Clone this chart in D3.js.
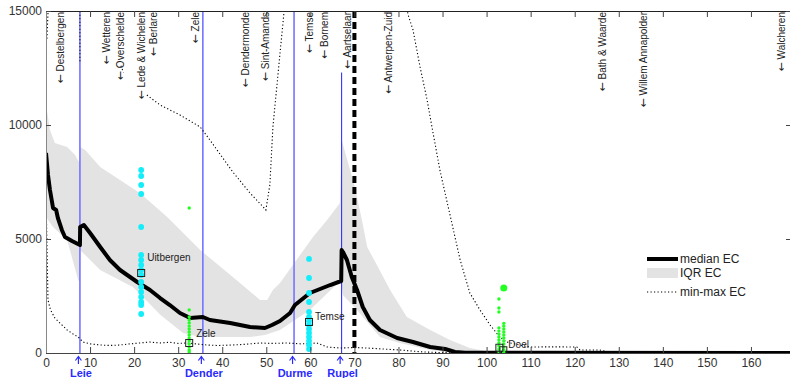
<!DOCTYPE html>
<html>
<head>
<meta charset="utf-8">
<script src="https://cdn.jsdelivr.net/npm/d3@7"></script>
<style>
  body { margin: 0; background: #fff; }
  svg { display: block; font-family: "Liberation Sans", Arial, sans-serif; }
</style>
</head>
<body>
<svg id="chart" width="790" height="378"></svg>
<script>
// ---- axis ticks ----
const xTicks = [0, 10, 20, 30, 40, 50, 60, 70, 80, 90, 100, 110, 120, 130, 140, 150, 160];
const yTicks = [0, 5000, 10000, 15000];

// ---- stations along the estuary (km from Gent) ----
const stationNames = ["Destelbergen", "Wetteren", "Overschelde", "Lede & Wichelen", "Berlare", "Zele",
  "Dendermonde", "Sint-Amands", "Temse", "Bornem", "Aartselaar", "Antwerpen-Zuid",
  "Bath & Waarde", "Willem Annapolder", "Walcheren"];
const stationKm = [3.4, 13.8, 17.0, 21.6, 24.3, 33.9, 45.2, 49.9, 59.9, 63.1, 68.5, 77.8, 126.4, 135.5, 167.0];

// ---- tributaries ----
const tributaryNames = ["Leie", "Dender", "Durme", "Rupel"];
const tributaryKm = [7.7, 35.6, 56.3, 67.1];
const tributaryTopEC = [15000, 15000, 15000, 12300];
const borderKm = 70;

// ---- median EC ----
const medianKm = [0, 0.45, 0.9, 1.6, 2.3, 2.7, 3.6, 4.3, 5.9, 7.7, 7.75, 8.6, 10.0, 12.3, 14.5, 16.8, 20.7, 23.6,
  25.9, 28.1, 30.4, 32.7, 35.6, 37.2, 41.8, 46.3, 49.7, 51.3, 53.1, 55.4, 56.5, 59.9, 64.5, 67.0, 67.1, 67.4,
  68.3, 69.4, 70.6, 71.9, 73.5, 75.8, 79.7, 83.3, 87.2, 90.6, 92.8, 95.1, 169];
const medianEC = [8772, 7807, 7149, 6360, 6272, 5921, 5395, 5088, 4912, 4737, 5526, 5614, 5263, 4649, 4079, 3640,
  3114, 2763, 2412, 2105, 1754, 1535, 1579, 1447, 1316, 1140, 1096, 1228, 1404, 1754, 2105, 2632, 2982, 3158,
  4518, 4430, 4079, 3333, 2763, 2018, 1447, 1009, 658, 482, 263, 175, 44, 10, 0];

// ---- interquartile range EC ----
const iqrUpperKm = [0, 0.9, 2.0, 4.8, 6.6, 7.6, 7.75, 8.9, 12.3, 16.8, 21.3, 27.5, 35.0, 42.4, 48.6, 50.2, 51.5,
  53.1, 60.6, 63.8, 66.7, 67.1, 68.2, 70.1, 71.7, 72.9, 75.1, 78.1, 81.9, 87.2, 91.7, 96.2, 100.8, 105, 169];
const iqrUpperEC = [10900, 9780, 9211, 9035, 8684, 8333, 9035, 8904, 8158, 7588, 7018, 5965, 4518, 3333, 2325,
  2325, 2763, 3070, 5088, 5833, 6579, 9342, 8596, 7281, 5833, 4649, 3860, 2763, 1579, 1009, 570, 219, 44, 0, 0];
const iqrLowerKm = [0, 1.6, 4.8, 7.3, 7.6, 7.75, 12.3, 19.7, 21.3, 26.0, 31.1, 35.0, 46.3, 49.7, 53.1, 59.9,
  67.0, 67.4, 70.6, 75.8, 80.3, 87.2, 92.8, 169];
const iqrLowerEC = [5965, 5526, 4956, 3202, 3114, 4518, 3640, 2895, 2600, 1667, 877, 702, 702, 789, 1009, 1886,
  3202, 2544, 1886, 702, 439, 132, 0, 0];

// ---- min / max EC (null = gap) ----
const maxKm = [0, 0.2, 0.6, null, 7.7, 7.7, null, 17.0, 17.6, null, 22.9, 25.9, 30.4, 35.0, 37.2, 42.4, 46.3,
  49.3, 49.9, 50.8, 51.5, 54.0, 54.6, null, 81.0, 82.2, 83.3, 84.9, 86.5, 87.6, 89.4, 91.7, 94.0, 96.2, 98.5,
  100.8, 103.0, 104.6, 106.4, 109.8, 115.0, 120.5, 121.2, 125.7, 128.0, 169];
const maxEC = [13640, 13750, 15600, null, 15300, 12760, null, 12600, 12300, null, 11316, 10877, 10439, 9912,
  9342, 7939, 7018, 6404, 6272, 7368, 9912, 14912, 16000, null, 16000, 14825, 14167, 12544, 11097, 9912, 8026,
  6053, 4079, 2632, 1886, 1228, 702, 482, 395, 263, 270, 263, 132, 132, 20, 20];
const minKm = [0.1, 0.45, 1.0, 2.0, 3.5, 4.8, 6.0, 7.3, 8.4, 10, 12.3, 14.5, 16.8, 19, 21.3, 23.5, 25.9, 28, 30,
  32, 34, 36.5, 39, 42.4, 45, 48.6, 51, 54.7, 58, 61.5, 63.8, 66.7, 70, 72.9, 76, 80.3, 85.6, 90, 94, 169];
const minEC = [5965, 2325, 1900, 1535, 1250, 1009, 850, 702, 482, 400, 351, 330, 351, 400, 439, 480, 439, 470,
  420, 439, 400, 351, 330, 351, 380, 439, 420, 439, 400, 439, 263, 219, 240, 219, 180, 132, 44, 20, 0, 0];

// ---- sampled stations ----
const uitbergenKm = 21.6;
const uitbergenEC = [8026, 7763, 7368, 6974, 5526, 4298, 4079, 3860, 3640, 3421, 3114, 2895, 2675, 2456, 2237, 2105, 1711];
const zeleKm = 32.5;
const zeleEC = [6360, 1890, 1580, 1450, 1320, 1180, 1050, 920, 790, 660, 530, 400, 260, 130, 50];
const temseKm = 59.7;
const temseEC = [4124, 3290, 2632, 2237, 1798, 1579, 1404, 1228, 1053, 877, 702, 526, 351, 175];
const doelKmA = 102.8;
const doelECA = [2368, 1974, 1798, 1100, 960, 830, 700, 570, 440, 310, 180, 60];
const doelKmB = 103.9;
const doelECB = [1300, 1180, 1050, 920, 790, 660, 530, 400, 270, 140, 30];
const doelPeakEC = 2851;

const squareKm = [21.6, 32.5, 59.7, 102.9, 103.8];
const squareEC = [3509, 438, 1360, 230, 120];
const sampleNames = ["Uitbergen", "Zele", "Temse", "Doel"];

const legendNames = ["median EC", "IQR EC", "min-max EC"];

// ---------------------------------------------------------------
const svg = d3.select("#chart");
const x = d3.scaleLinear().domain([0, 169]).range([46, 790.6]);
const y = d3.scaleLinear().domain([0, 15000]).range([353, 11]);
const plotL = 46, plotR = 790, plotT = 11, plotB = 353;

svg.append("defs").append("clipPath").attr("id", "plot")
  .append("rect").attr("x", plotL).attr("y", plotT).attr("width", plotR - plotL).attr("height", plotB - plotT);

const plot = svg.append("g").attr("clip-path", "url(#plot)");
const pts = (ks, vs) => ks.map((k, i) => ({ k, v: vs[i] }));
const line = d3.line().defined(d => d.k !== null && d.v !== null).x(d => x(d.k)).y(d => y(d.v));

// IQR band: upper boundary forward, lower boundary back
const band = pts(iqrUpperKm, iqrUpperEC).concat(pts(iqrLowerKm, iqrLowerEC).reverse());
plot.append("path").attr("d", line(band) + "Z").attr("fill", "#e3e3e3").attr("stroke", "none");

// tributary confluences
tributaryKm.forEach((k, i) => {
  const isRupel = tributaryNames[i] === "Rupel";
  plot.append("line").attr("x1", x(k)).attr("x2", x(k)).attr("y1", y(tributaryTopEC[i])).attr("y2", y(0))
    .attr("stroke", isRupel ? "#2020ff" : "#7474ff").attr("stroke-width", isRupel ? 1 : 1.6);
});

// min / max dotted lines
[[maxKm, maxEC], [minKm, minEC]].forEach(([k, v]) => {
  plot.append("path").attr("d", line(pts(k, v))).attr("fill", "none")
    .attr("stroke", "#000").attr("stroke-width", 1.1).attr("stroke-dasharray", "1.2,2.3");
});

// median EC
plot.append("path").attr("d", line(pts(medianKm, medianEC))).attr("fill", "none")
  .attr("stroke", "#000").attr("stroke-width", 4).attr("stroke-linejoin", "round");

// border line
plot.append("line").attr("x1", x(borderKm)).attr("x2", x(borderKm)).attr("y1", y(15000)).attr("y2", y(0))
  .attr("stroke", "#000").attr("stroke-width", 4).attr("stroke-dasharray", "7,4");

// sampled points
const cyan = "#14eefa", green = "#22ff22";
const dots = (k, vs, r, c) => vs.forEach(v => plot.append("circle").attr("cx", x(k)).attr("cy", y(v)).attr("r", r).attr("fill", c));
dots(uitbergenKm, uitbergenEC, 2.9, cyan);
dots(temseKm, temseEC, 2.9, cyan);
dots(zeleKm, zeleEC, 1.7, green);
dots(doelKmA, doelECA, 1.7, green);
dots(doelKmB, doelECB, 1.7, green);
dots(doelKmB, [doelPeakEC], 3.5, green);

// station reference squares
squareKm.forEach((k, i) => {
  plot.append("rect").attr("x", x(k) - 3.5).attr("y", y(squareEC[i]) - 3.5).attr("width", 7).attr("height", 7)
    .attr("fill", "none").attr("stroke", "#222").attr("stroke-width", 1);
});
// labels next to the squares
const labelOffset = [[6, -12], [7, -6], [6, -2], [9, 0]];
sampleNames.forEach((n, i) => {
  plot.append("text").attr("x", x(squareKm[i]) + labelOffset[i][0]).attr("y", y(squareEC[i]) + labelOffset[i][1])
    .attr("font-size", 10).attr("fill", "#222").text(n);
});

// ---- axes ----
const axisColor = "#444";
const gB = svg.append("g").attr("transform", `translate(0,${plotB})`)
  .call(d3.axisBottom(x).tickValues(xTicks).tickFormat(d3.format("d")).tickSizeInner(-6).tickSizeOuter(0).tickPadding(5));
const gT = svg.append("g").attr("transform", `translate(0,${plotT})`)
  .call(d3.axisTop(x).tickValues(xTicks).tickSizeInner(-6).tickSizeOuter(0).tickFormat(""));
const gL = svg.append("g").attr("transform", `translate(${plotL},0)`)
  .call(d3.axisLeft(y).tickValues(yTicks).tickFormat(d3.format("d")).tickSizeInner(-5).tickSizeOuter(0).tickPadding(4));
const gR = svg.append("g").attr("transform", `translate(${plotR},0)`)
  .call(d3.axisRight(y).tickValues(yTicks).tickSizeInner(-4).tickSizeOuter(0).tickFormat(""));
[gB, gT, gL, gR].forEach(g => {
  g.selectAll("path.domain").attr("stroke", axisColor);
  g.selectAll(".tick line").attr("stroke", axisColor);
  g.selectAll("text").attr("font-size", 12).attr("fill", "#333").attr("font-family", "Liberation Sans, Arial, sans-serif");
});
gL.select("path.domain").attr("stroke", "#888");
gT.select("path.domain").attr("stroke", "#222");

// ---- station names along the top ----
stationKm.forEach((k, i) => {
  const t = svg.append("text").attr("transform", `translate(${x(k)},${plotT + 1}) rotate(-90)`)
    .attr("text-anchor", "end").attr("dy", "0.35em").attr("font-size", 10).attr("fill", "#222");
  t.append("tspan").attr("font-family", "DejaVu Sans").attr("font-size", 11).text("\u2190");
  t.append("tspan").text(" " + stationNames[i]);
});

// ---- tributary markers under the axis ----
const blue = "#2a2aff";
tributaryKm.forEach((k, i) => {
  const cx = x(k) - 1.5;
  svg.append("path").attr("d", `M${cx},357 L${cx},364 M${cx - 3},360.5 L${cx},356.5 L${cx + 3},360.5`)
    .attr("fill", "none").attr("stroke", blue).attr("stroke-width", 1.2);
  svg.append("text").attr("x", x(k) + 1).attr("y", 376.5).attr("text-anchor", "middle")
    .attr("font-size", 11).attr("font-weight", "bold").attr("fill", blue).text(tributaryNames[i]);
});

// ---- legend ----
const lg = svg.append("g");
const lx0 = 647, lx1 = 678, ly = [259, 273, 292];
lg.append("line").attr("x1", lx0).attr("x2", lx1).attr("y1", ly[0]).attr("y2", ly[0]).attr("stroke", "#000").attr("stroke-width", 4);
lg.append("rect").attr("x", lx0).attr("y", ly[1] - 5).attr("width", lx1 - lx0).attr("height", 10).attr("fill", "#e3e3e3");
lg.append("line").attr("x1", lx0).attr("x2", lx1).attr("y1", ly[2]).attr("y2", ly[2]).attr("stroke", "#000")
  .attr("stroke-width", 1.1).attr("stroke-dasharray", "1.2,2.3");
legendNames.forEach((n, i) => {
  lg.append("text").attr("x", lx1 + 2).attr("y", ly[i]).attr("dy", "0.35em").attr("font-size", 12).attr("fill", "#222").text(n);
});
</script>
</body>
</html>
